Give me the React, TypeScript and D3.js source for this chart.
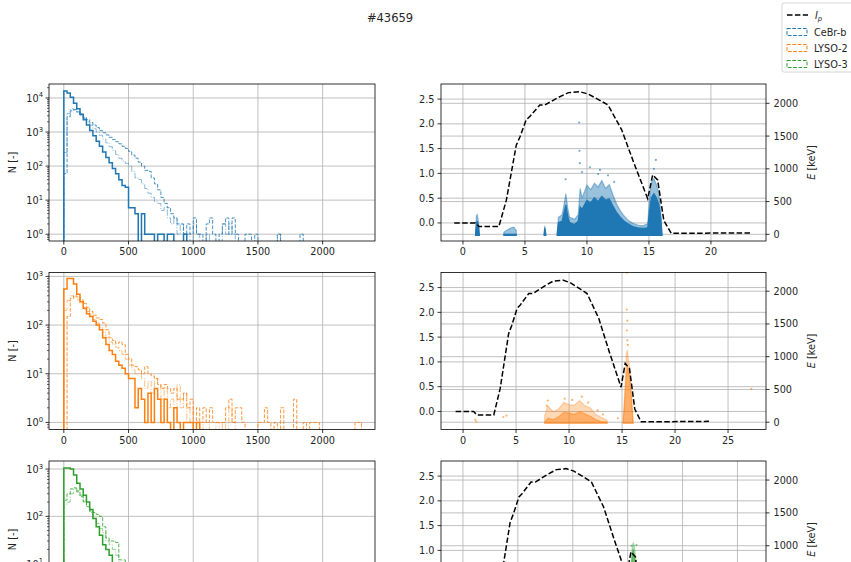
import React from 'react';
import * as d3 from 'd3';

// ---------------- data ----------------
const TITLE = '#43659';
const BIN_WIDTH = 25;
const detectorNames = ['CeBr-b', 'LYSO-2', 'LYSO-3'];
const detectorColors = ['#1f77b4', '#ff7f0e', '#2ca02c'];
const histXTicks = [0, 500, 1000, 1500, 2000];

// histogram counts per 25 keV bin, starting at 0 keV
const cebrSolid = [16000, 14000, 10500, 7000, 4800, 3300, 2300, 1600, 1100, 780, 540, 380, 260, 180, 125, 85, 60, 40, 27, 24, 6, 6, 4, 0, 4, 1, 1, 1, 0, 1, 1, 0, 1, 1, 0, 0, 0, 1];
const cebrDashed = [60, 2800, 4200, 4500, 3900, 3300, 2700, 2300, 1900, 1600, 1350, 1100, 950, 820, 700, 600, 520, 450, 380, 330, 270, 210, 170, 130, 100, 75, 70, 45, 30, 20, 12, 8, 6, 4, 3, 2, 2, 1, 2, 1, 3, 1, 1, 0, 2, 3, 1, 0, 1, 2, 3, 1, 3, 1, 0, 0, 1, 1, 0, 1, 0, 0, 0, 0, 0, 0, 1, 0, 0, 0, 0, 0, 0, 1];
const cebrDashDot = [250, 3500, 4800, 4600, 3800, 3100, 2500, 2000, 1600, 1250, 1000, 800, 620, 480, 370, 290, 220, 170, 140, 120, 100, 70, 45, 40, 30, 22, 16, 12, 9, 8, 5, 6, 3, 2, 3, 1, 2, 1, 1, 0, 2, 1, 0, 0, 1, 0, 0, 0, 0, 2, 1, 2, 1, 0, 0, 0, 0, 0, 0, 0, 0, 0, 0, 0, 0, 0, 1];

const lyso2Solid = [550, 900, 900, 700, 430, 300, 220, 170, 150, 120, 100, 80, 55, 40, 30, 25, 18, 15, 13, 10, 8, 8, 2, 5, 3, 1, 4, 1, 5, 3, 1, 3, 1, 0, 2, 1, 0, 1, 1, 1, 0, 1];
const lyso2Dashed = [0, 150, 350, 400, 380, 330, 280, 230, 190, 160, 140, 130, 110, 80, 55, 48, 42, 45, 40, 25, 20, 15, 14, 12, 10, 14, 10, 9, 8, 6, 5, 6, 5, 4, 5, 3, 3, 4, 2, 3, 1, 2, 1, 2, 1, 2, 1, 1, 1, 1, 2, 3, 1, 2, 2, 1, 0, 0, 0, 0, 1, 1, 2, 1, 0, 1, 0, 2, 0, 0, 0, 3, 0, 0, 1, 0, 1, 1, 1, 0, 0, 0, 0, 0, 0, 0, 0, 0, 0, 0, 1, 1];
const lyso2DashDot = [200, 320, 400, 380, 330, 280, 230, 190, 160, 130, 110, 90, 70, 55, 45, 40, 35, 30, 25, 20, 15, 12, 10, 10, 8, 5, 7, 4, 8, 6, 3, 5, 2, 3, 2, 6, 2, 4, 1, 2, 1, 1, 0, 1, 1, 0, 0, 1, 0, 1, 0, 2, 1];

const lyso3Solid = [1050, 1050, 1000, 750, 500, 380, 280, 200, 140, 90, 60, 40, 25, 20, 15, 10, 8, 5, 4, 3, 2, 2, 1, 1, 1, 0, 1];
const lyso3Dashed = [220, 300, 380, 400, 330, 260, 200, 160, 130, 120, 110, 100, 60, 35, 30, 30, 28, 12, 12, 10, 8, 5, 3, 3, 2, 1, 1, 2, 1];
const lyso3DashDot = [180, 200, 300, 380, 350, 280, 210, 160, 120, 90, 70, 55, 45, 30, 25, 20, 15, 10, 8, 6, 4, 3, 2, 1, 1];

// plasma current I_p [MA] vs time
const ipTime = [-0.7, 1.0, 1.3, 2.9, 3.5, 4.3, 4.6, 5.1, 5.4, 6.2, 6.6, 7.6, 8.5, 9.4, 10.1, 11.0, 11.7, 12.8, 13.8, 14.9, 15.3, 15.7, 16.2, 16.8, 23.2];
const ipValue = [0.0, 0.0, -0.07, -0.07, 0.46, 1.57, 1.74, 2.08, 2.15, 2.38, 2.38, 2.52, 2.63, 2.65, 2.6, 2.48, 2.38, 1.88, 1.2, 0.49, 0.97, 0.87, 0.05, -0.21, -0.2];
const ipTicks = [0, 0.5, 1, 1.5, 2, 2.5];
const energyTicks = [0, 500, 1000, 1500, 2000];

// scatter density envelopes (time [s], upper energy of dense core / sparse halo [keV])
const cebrMainTime = [7.6, 7.7, 8.0, 8.15, 8.3, 8.45, 8.6, 9.0, 9.3, 9.45, 9.6, 9.8, 10.0, 10.3, 10.6, 10.9, 11.2, 11.5, 11.8, 12.1, 12.4, 12.7, 13.0, 13.3, 13.7, 14.1, 14.5, 14.9, 15.05, 15.2, 15.4, 15.6, 15.8, 15.95, 16.05];
const cebrMainCore = [0, 180, 200, 330, 450, 280, 180, 150, 200, 420, 380, 450, 520, 480, 560, 500, 580, 520, 540, 430, 330, 260, 200, 160, 120, 100, 90, 100, 350, 560, 620, 560, 450, 250, 0];
const cebrMainHalo = [0, 260, 300, 450, 620, 400, 260, 230, 300, 700, 560, 650, 750, 680, 780, 720, 820, 700, 760, 600, 460, 360, 280, 220, 170, 140, 130, 160, 550, 800, 850, 760, 620, 350, 0];
const cebrSpikeTime = [1.02, 1.08, 1.15, 1.25, 1.32];
const cebrSpikeCore = [0, 150, 200, 120, 0];
const cebrSpikeHalo = [0, 280, 300, 200, 0];
const cebrEarlyTime = [3.3, 3.6, 3.9, 4.1, 4.3];
const cebrEarlyCore = [0, 0, 0, 0, 0];
const cebrEarlyHalo = [30, 70, 100, 110, 60];
const cebrMidTime = [6.55, 6.6, 6.68];
const cebrMidCore = [0, 100, 0];
const cebrMidHalo = [0, 130, 0];
const cebrOutTime = [8.28, 9.37, 9.4, 9.42, 10.24, 11.05, 11.7, 15.56, 9.6, 10.9, 12.2, 15.4];
const cebrOutEnergy = [841, 1707, 1274, 1086, 1024, 983, 900, 1136, 950, 920, 800, 1000];

const lyso2CloudTime = [7.7, 8.0, 8.5, 9.0, 9.5, 10.0, 10.5, 11.0, 11.5, 12.0, 12.5, 13.0, 13.6];
const lyso2CloudCore = [0, 60, 40, 80, 150, 140, 120, 160, 130, 90, 40, 10, 0];
const lyso2CloudHalo = [100, 250, 160, 200, 300, 270, 260, 330, 250, 220, 120, 80, 30];
const lyso2SpikeTime = [15.1, 15.2, 15.3, 15.4, 15.5, 15.6, 15.7, 15.85, 15.95, 16.05];
const lyso2SpikeCore = [0, 200, 450, 700, 850, 800, 700, 450, 200, 0];
const lyso2SpikeHalo = [0, 300, 600, 1050, 1100, 950, 850, 550, 250, 0];
const lyso2OutTime = [15.45, 15.45, 15.5, 15.45, 15.5, 15.55, 27.2, 1.15, 1.25, 3.8, 4.1, 14.6, 8.0, 9.6, 11.2, 12.7, 13.2, 7.9, 10.3, 11.8];
const lyso2OutEnergy = [2281, 1720, 1550, 1400, 1250, 1180, 510, 40, 10, 80, 100, 60, 330, 360, 390, 180, 120, 250, 340, 300];

const lyso3CloudTime = [7.7, 8.5, 9.5, 10.5, 11.5, 12.5, 13.6];
const lyso3CloudCore = [0, 60, 120, 130, 110, 50, 0];
const lyso3CloudHalo = [80, 160, 260, 280, 240, 120, 30];
const lyso3SpikeTime = [15.1, 15.25, 15.4, 15.5, 15.6, 15.75, 15.9, 16.05];
const lyso3SpikeCore = [0, 400, 800, 950, 850, 600, 300, 0];
const lyso3SpikeHalo = [0, 500, 950, 1050, 1000, 800, 400, 0];
const lyso3OutTime = [15.8, 15.35];
const lyso3OutEnergy = [1010, 1000];

// ---------------- layout ----------------
const W = 851;
const H = 562;
const FONT = "'DejaVu Sans', sans-serif";
const FS = 9.7;
const LEFT_X0 = 49;
const LEFT_X1 = 375;
const RIGHT_X0 = 441;
const RIGHT_X1 = 766;
const ROW_TOP = [84, 272.5, 461];
const ROW_H = 157;
const histXDomain = [-114.5, 2404.5];
const histLogDomain = [[-0.2, 4.41], [-0.145, 3.08], [-0.15, 3.17]];
const timeDomain = [[-1.77, 24.44], [-2.08, 28.58], [-2.0, 27.6]];
const timeTicks = [[0, 5, 10, 15, 20], [0, 5, 10, 15, 20, 25], [0, 5, 10, 15, 20, 25]];
const ipDomain = [-0.364, 2.804];
const energyDomain = [[-102, 2295], [-111, 2285], [-100, 2290]];

const histSeries = [
  [cebrSolid, cebrDashed, cebrDashDot],
  [lyso2Solid, lyso2Dashed, lyso2DashDot],
  [lyso3Solid, lyso3Dashed, lyso3DashDot],
];
const histStyles = [
  { w: 1.5, dash: undefined as string | undefined, op: 1 },
  { w: 1.0, dash: '3.7,1.6', op: 0.8 },
  { w: 1.0, dash: '6.4,1.6,1,1.6', op: 0.5 },
];

const scatterBlobs = [
  [
    { time: cebrMainTime, core: cebrMainCore, halo: cebrMainHalo },
    { time: cebrSpikeTime, core: cebrSpikeCore, halo: cebrSpikeHalo },
    { time: cebrEarlyTime, core: cebrEarlyCore, halo: cebrEarlyHalo },
    { time: cebrMidTime, core: cebrMidCore, halo: cebrMidHalo },
  ],
  [
    { time: lyso2CloudTime, core: lyso2CloudCore, halo: lyso2CloudHalo },
    { time: lyso2SpikeTime, core: lyso2SpikeCore, halo: lyso2SpikeHalo },
  ],
  [
    { time: lyso3CloudTime, core: lyso3CloudCore, halo: lyso3CloudHalo },
    { time: lyso3SpikeTime, core: lyso3SpikeCore, halo: lyso3SpikeHalo },
  ],
];
const coreOpacity = [1, 0.45, 0.5];
const haloOpacity = [0.45, 0.3, 0.3];
const scatterOutliers = [
  { time: cebrOutTime, energy: cebrOutEnergy },
  { time: lyso2OutTime, energy: lyso2OutEnergy },
  { time: lyso3OutTime, energy: lyso3OutEnergy },
];

const GRID = '#b0b0b0';
const TXT = '#262626';

function fmtIp(v: number) {
  return v.toFixed(1);
}

function HistPanel({ row }: { row: number }) {
  const top = ROW_TOP[row];
  const bottom = top + ROW_H;
  const x = d3.scaleLinear().domain(histXDomain).range([LEFT_X0, LEFT_X1]);
  const [lo, hi] = histLogDomain[row];
  const y = d3.scaleLog().domain([10 ** lo, 10 ** hi]).range([bottom, top]);
  const color = detectorColors[row];
  const zeroY = bottom + 40;
  const clipId = `hclip${row}`;
  const stepPath = (counts: number[]) => {
    let d = `M${x(0)},${zeroY}`;
    counts.forEach((c, i) => {
      const yy = c > 0 ? y(c) : zeroY;
      d += `L${x(i * BIN_WIDTH)},${yy}L${x((i + 1) * BIN_WIDTH)},${yy}`;
    });
    d += `L${x(counts.length * BIN_WIDTH)},${zeroY}`;
    return d;
  };
  const majors = d3.range(Math.ceil(lo), Math.floor(hi) + 1);
  const minors: number[] = [];
  for (let k = Math.floor(lo); k <= Math.ceil(hi); k++) {
    for (let m = 2; m <= 9; m++) {
      const v = m * 10 ** k;
      if (v >= 10 ** lo && v <= 10 ** hi) minors.push(v);
    }
  }
  return (
    <g>
      <defs>
        <clipPath id={clipId}>
          <rect x={LEFT_X0} y={top} width={LEFT_X1 - LEFT_X0} height={ROW_H} />
        </clipPath>
      </defs>
      {histXTicks.map((t) => (
        <line key={'gx' + t} x1={x(t)} x2={x(t)} y1={top} y2={bottom} stroke={GRID} strokeWidth={0.8} />
      ))}
      {majors.map((k) => (
        <line key={'gy' + k} x1={LEFT_X0} x2={LEFT_X1} y1={y(10 ** k)} y2={y(10 ** k)} stroke={GRID} strokeWidth={0.8} />
      ))}
      <g clipPath={`url(#${clipId})`}>
        {histSeries[row].map((counts, i) => (
          <path
            key={i}
            d={stepPath(counts)}
            fill="none"
            stroke={color}
            strokeWidth={histStyles[i].w}
            strokeDasharray={histStyles[i].dash}
            strokeOpacity={histStyles[i].op}
            strokeLinejoin="miter"
          />
        ))}
      </g>
      <rect x={LEFT_X0} y={top} width={LEFT_X1 - LEFT_X0} height={ROW_H} fill="none" stroke="#000" strokeWidth={0.8} />
      {histXTicks.map((t) => (
        <g key={'tx' + t}>
          <line x1={x(t)} x2={x(t)} y1={bottom} y2={bottom + 3.5} stroke="#000" strokeWidth={0.8} />
          <text x={x(t)} y={bottom + 14} textAnchor="middle" fontSize={FS} fill={TXT}>
            {t}
          </text>
        </g>
      ))}
      {minors.map((v, i) => (
        <line key={'mn' + i} x1={LEFT_X0 - 2} x2={LEFT_X0} y1={y(v)} y2={y(v)} stroke="#000" strokeWidth={0.6} />
      ))}
      {majors.map((k) => (
        <g key={'ty' + k}>
          <line x1={LEFT_X0 - 3.5} x2={LEFT_X0} y1={y(10 ** k)} y2={y(10 ** k)} stroke="#000" strokeWidth={0.8} />
          <text x={LEFT_X0 - 6} y={y(10 ** k) + 4} textAnchor="end" fontSize={FS} fill={TXT}>
            10
            <tspan dy={-4.5} fontSize={6.8}>
              {k}
            </tspan>
          </text>
        </g>
      ))}
      <text
        transform={`translate(${16},${top + ROW_H / 2}) rotate(-90)`}
        textAnchor="middle"
        fontSize={FS}
        fill={TXT}
      >
        N [-]
      </text>
    </g>
  );
}

function TimePanel({ row }: { row: number }) {
  const top = ROW_TOP[row];
  const bottom = top + ROW_H;
  const x = d3.scaleLinear().domain(timeDomain[row]).range([RIGHT_X0, RIGHT_X1]);
  const yI = d3.scaleLinear().domain(ipDomain).range([bottom, top]);
  const yE = d3.scaleLinear().domain(energyDomain[row]).range([bottom, top]);
  const color = detectorColors[row];
  const clipId = `tclip${row}`;
  const base = -15;
  const area = (times: number[]) =>
    d3
      .area<number>()
      .x((_, i) => x(times[i]))
      .y0(yE(base))
      .y1((v) => yE(v))
      .curve(d3.curveLinear);
  const ipLine = d3
    .line<number>()
    .x((_, i) => x(ipTime[i]))
    .y((v) => yI(v));
  const outl = scatterOutliers[row];
  return (
    <g>
      <defs>
        <clipPath id={clipId}>
          <rect x={RIGHT_X0} y={top} width={RIGHT_X1 - RIGHT_X0} height={ROW_H} />
        </clipPath>
      </defs>
      {timeTicks[row].map((t) => (
        <line key={'gx' + t} x1={x(t)} x2={x(t)} y1={top} y2={bottom} stroke={GRID} strokeWidth={0.8} />
      ))}
      {ipTicks.map((v) => (
        <line key={'gi' + v} x1={RIGHT_X0} x2={RIGHT_X1} y1={yI(v)} y2={yI(v)} stroke={GRID} strokeWidth={0.8} />
      ))}
      {energyTicks.map((v) => (
        <line key={'ge' + v} x1={RIGHT_X0} x2={RIGHT_X1} y1={yE(v)} y2={yE(v)} stroke={GRID} strokeWidth={0.8} />
      ))}
      <g clipPath={`url(#${clipId})`}>
        {scatterBlobs[row].map((b, i) => (
          <g key={i}>
            <path d={area(b.time)(b.halo) || ''} fill={color} fillOpacity={haloOpacity[row]} stroke={color} strokeOpacity={haloOpacity[row]} strokeWidth={1.2} />
            <path d={area(b.time)(b.core) || ''} fill={color} fillOpacity={coreOpacity[row]} stroke={color} strokeOpacity={coreOpacity[row]} strokeWidth={1.2} />
          </g>
        ))}
        {outl.time.map((t, i) => (
          <circle key={i} cx={x(t)} cy={yE(outl.energy[i])} r={1.1} fill={color} fillOpacity={0.6} />
        ))}
        <path d={ipLine(ipValue) || ''} fill="none" stroke="#000" strokeWidth={1.5} strokeDasharray="5.5,2.4" />
      </g>
      <rect x={RIGHT_X0} y={top} width={RIGHT_X1 - RIGHT_X0} height={ROW_H} fill="none" stroke="#000" strokeWidth={0.8} />
      {timeTicks[row].map((t) => (
        <g key={'tx' + t}>
          <line x1={x(t)} x2={x(t)} y1={bottom} y2={bottom + 3.5} stroke="#000" strokeWidth={0.8} />
          <text x={x(t)} y={bottom + 14} textAnchor="middle" fontSize={FS} fill={TXT}>
            {t}
          </text>
        </g>
      ))}
      {ipTicks.map((v) => (
        <g key={'ti' + v}>
          <line x1={RIGHT_X0 - 3.5} x2={RIGHT_X0} y1={yI(v)} y2={yI(v)} stroke="#000" strokeWidth={0.8} />
          <text x={RIGHT_X0 - 6.5} y={yI(v) + 3.5} textAnchor="end" fontSize={FS} fill={TXT}>
            {fmtIp(v)}
          </text>
        </g>
      ))}
      {energyTicks.map((v) => (
        <g key={'te' + v}>
          <line x1={RIGHT_X1} x2={RIGHT_X1 + 3.5} y1={yE(v)} y2={yE(v)} stroke="#000" strokeWidth={0.8} />
          <text x={RIGHT_X1 + 7.5} y={yE(v) + 3.5} textAnchor="start" fontSize={FS} fill={TXT}>
            {v}
          </text>
        </g>
      ))}
      <text
        transform={`translate(${815},${top + ROW_H / 2}) rotate(-90)`}
        textAnchor="middle"
        fontSize={FS}
        fill={TXT}
      >
        <tspan fontStyle="italic">E</tspan> [keV]
      </text>
    </g>
  );
}

function Legend() {
  const x0 = 782;
  const ys = [15, 32, 48, 64];
  return (
    <g>
      <rect x={x0} y={3} width={90} height={69} rx={2} fill="#fff" fillOpacity={0.8} stroke="#cccccc" strokeWidth={0.8} />
      <line x1={787} x2={808} y1={ys[0]} y2={ys[0]} stroke="#000" strokeWidth={1.5} strokeDasharray="5.5,2.4" />
      <text x={815} y={ys[0] + 3.5} fontSize={FS} fill={TXT}>
        <tspan fontStyle="italic">I</tspan>
        <tspan fontStyle="italic" fontSize={6.8} dy={2.5}>p</tspan>
      </text>
      {detectorNames.map((n, i) => (
        <g key={n}>
          <rect x={787} y={ys[i + 1] - 3.5} width={20} height={7} fill="none" stroke={detectorColors[i]} strokeWidth={1} strokeDasharray="3.7,1.6" />
          <text x={814} y={ys[i + 1] + 3.5} fontSize={FS} fill={TXT}>
            {n}
          </text>
        </g>
      ))}
    </g>
  );
}

export default function App() {
  return (
    <svg
      width={W}
      height={H}
      viewBox={`0 0 ${W} ${H}`}
      style={{ position: 'absolute', left: 0, top: 0, background: '#fff', fontFamily: FONT }}
      fontFamily={FONT}
    >
      <rect x={0} y={0} width={W} height={H} fill="#fff" />
      <text x={390} y={22} textAnchor="middle" fontSize={11.5} fill={TXT}>
        {TITLE}
      </text>
      {[0, 1, 2].map((r) => (
        <HistPanel key={'h' + r} row={r} />
      ))}
      {[0, 1, 2].map((r) => (
        <TimePanel key={'t' + r} row={r} />
      ))}
      <Legend />
    </svg>
  );
}
